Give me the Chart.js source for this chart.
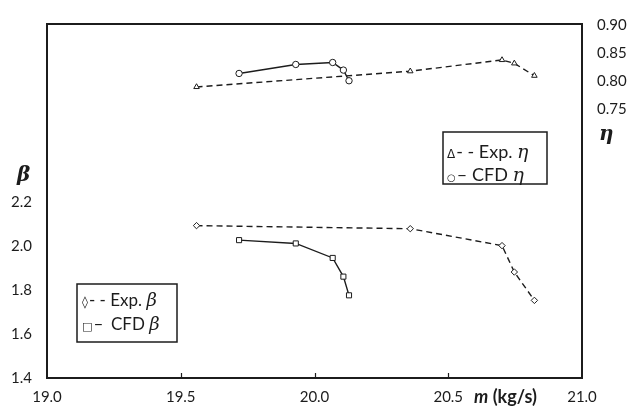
<!DOCTYPE html>
<html>
<head>
<meta charset="utf-8">
<script src="https://cdn.jsdelivr.net/npm/chart.js@4/dist/chart.umd.min.js"></script>
<style>
  html, body { margin: 0; padding: 0; background: #fff; }
  #c { display: block; }
</style>
</head>
<body>
<canvas id="c" width="630" height="407"></canvas>
<script>
// Compressor map: mass flow vs pressure ratio (beta) and efficiency (eta)
const massFlowExp = [19.559, 20.358, 20.701, 20.747, 20.822];
const etaExp      = [0.790, 0.818, 0.838, 0.832, 0.810];
const betaExp     = [2.093, 2.079, 2.002, 1.882, 1.753];

const massFlowCfd = [19.718, 19.930, 20.068, 20.108, 20.129];
const etaCfd      = [0.814, 0.830, 0.8335, 0.820, 0.801];
const betaCfd     = [2.027, 2.012, 1.946, 1.861, 1.776];

const massTicks = [19.0, 19.5, 20.0, 20.5, 21.0];
const betaTicks = [1.4, 1.6, 1.8, 2.0, 2.2];
const etaTicks  = [0.75, 0.80, 0.85, 0.90];

const INK = '#1c1c1c';
const TICK_FONT = { family: 'Lato, "Open Sans", sans-serif', size: 15 };

const toPoints = (xs, ys) => xs.map((x, i) => ({ x: x, y: ys[i] }));

function series(label, xs, ys, axis, style, dashed) {
  return {
    label: label,
    data: toPoints(xs, ys),
    yAxisID: axis,
    showLine: true,
    borderColor: INK,
    borderWidth: 1.4,
    borderDash: dashed ? [6, 4] : [],
    pointStyle: style,
    pointRadius: style === 'rect' ? 3.6 : 3.2,
    pointBorderWidth: 1,
    pointBackgroundColor: '#fff',
    pointBorderColor: INK,
    fill: false,
    tension: 0
  };
}

const setTicks = values => axis => { axis.ticks = values.map(v => ({ value: v })); };

// Frame, inward x ticks, axis titles and the two legend boxes
const decorations = {
  id: 'decorations',
  afterDraw(chart) {
    const { ctx, chartArea: a, scales } = chart;
    ctx.save();

    ctx.strokeStyle = INK;
    ctx.lineWidth = 2;
    ctx.strokeRect(a.left, a.top, a.right - a.left, a.bottom - a.top);

    ctx.lineWidth = 1.2;
    massTicks.slice(1, -1).forEach(v => {
      const x = Math.round(scales.x.getPixelForValue(v)) + 0.5;
      ctx.beginPath();
      ctx.moveTo(x, a.bottom);
      ctx.lineTo(x, a.bottom - 5);
      ctx.stroke();
    });

    ctx.fillStyle = INK;
    ctx.textBaseline = 'alphabetic';
    ctx.textAlign = 'left';

    // axis titles
    ctx.font = 'italic bold 20px "DejaVu Serif", "Liberation Serif", serif';
    ctx.fillText('\u03B2', 17, 181);
    ctx.fillText('\u03B7', 599, 140);

    ctx.font = 'italic bold 18px Lato, "Open Sans", sans-serif';
    ctx.fillText('m', 474, 403);
    const mw = ctx.measureText('m').width;
    ctx.font = 'bold 18px Lato, "Open Sans", sans-serif';
    ctx.fillText(' (kg/s)', 474 + mw, 403);

    // legend boxes: symbol glyph, connector, label, italic greek letter, laid out in sequence
    const legend = (box, size, rows) => {
      ctx.fillStyle = '#fff';
      ctx.fillRect(box[0], box[1], box[2], box[3]);
      ctx.lineWidth = 1.5;
      ctx.strokeStyle = INK;
      ctx.strokeRect(box[0], box[1], box[2], box[3]);
      ctx.fillStyle = INK;
      const textFont = size + 'px Lato, "Open Sans", sans-serif';
      const greekFont = 'italic ' + (size + 1) + 'px "DejaVu Serif", "Liberation Serif", serif';
      rows.forEach(r => {
        let x = r.x;
        ctx.font = r.symFont;
        ctx.fillText(r.sym, x, r.y);
        x += ctx.measureText(r.sym).width + 1;
        ctx.font = textFont;
        ctx.fillText(r.link, x, r.y);
        x = Math.max(x + ctx.measureText(r.link + ' ').width, r.tx);
        ctx.fillText(r.txt, x, r.y);
        x += ctx.measureText(r.txt + ' ').width;
        ctx.font = greekFont;
        ctx.fillText(r.greek, x, r.y);
      });
    };
    legend([443, 132, 104, 52], 18, [
      { sym: '\u0394', symFont: '12px "DejaVu Sans", sans-serif', x: 447,
        link: '- -', tx: 0, txt: 'Exp.', greek: '\u03B7', y: 158 },
      { sym: '\u25CB', symFont: '10px "DejaVu Sans", sans-serif', x: 447,
        link: '\u2013', tx: 472, txt: 'CFD', greek: '\u03B7', y: 181 }
    ]);
    legend([77, 284, 100, 58], 17, [
      { sym: '\u25CA', symFont: '12px "DejaVu Sans", sans-serif', x: 82,
        link: '- -', tx: 0, txt: 'Exp.', greek: '\u03B2', y: 306 },
      { sym: '\u25A1', symFont: '11px "DejaVu Sans", sans-serif', x: 82,
        link: '\u2013', tx: 111, txt: 'CFD', greek: '\u03B2', y: 330 }
    ]);

    ctx.restore();
  }
};

new Chart(document.getElementById('c'), {
  type: 'scatter',
  data: {
    datasets: [
      series('Exp. \u03B7', massFlowExp, etaExp, 'y2', 'triangle', true),
      series('CFD \u03B7', massFlowCfd, etaCfd, 'y2', 'circle', false),
      series('Exp. \u03B2', massFlowExp, betaExp, 'y', 'rectRot', true),
      series('CFD \u03B2', massFlowCfd, betaCfd, 'y', 'rect', false)
    ]
  },
  options: {
    responsive: false,
    devicePixelRatio: 1,
    animation: false,
    layout: { padding: { top: 16, left: 0, right: 0, bottom: 0 } },
    plugins: { legend: { display: false }, tooltip: { enabled: false } },
    scales: {
      x: {
        type: 'linear', position: 'bottom', min: 19, max: 21,
        afterBuildTicks: setTicks(massTicks),
        afterFit: s => { s.height = 29; },
        grid: { display: false, drawTicks: false },
        border: { display: false },
        ticks: { font: TICK_FONT, color: INK, padding: 10, maxRotation: 0,
                 callback: v => v.toFixed(1) }
      },
      y: {
        type: 'linear', position: 'left', min: 1.4, max: 3.01,
        afterBuildTicks: setTicks(betaTicks),
        afterFit: s => { s.width = 47; },
        grid: { display: false, drawTicks: false },
        border: { display: false },
        ticks: { font: TICK_FONT, color: INK, padding: 15,
                 callback: v => v.toFixed(1) }
      },
      y2: {
        type: 'linear', position: 'right', min: 0.272, max: 0.902,
        afterBuildTicks: setTicks(etaTicks),
        afterFit: s => { s.width = 48; },
        grid: { display: false, drawTicks: false },
        border: { display: false },
        ticks: { font: TICK_FONT, color: INK, padding: 15,
                 callback: v => v.toFixed(2) }
      }
    }
  },
  plugins: [decorations]
});
</script>
</body>
</html>
